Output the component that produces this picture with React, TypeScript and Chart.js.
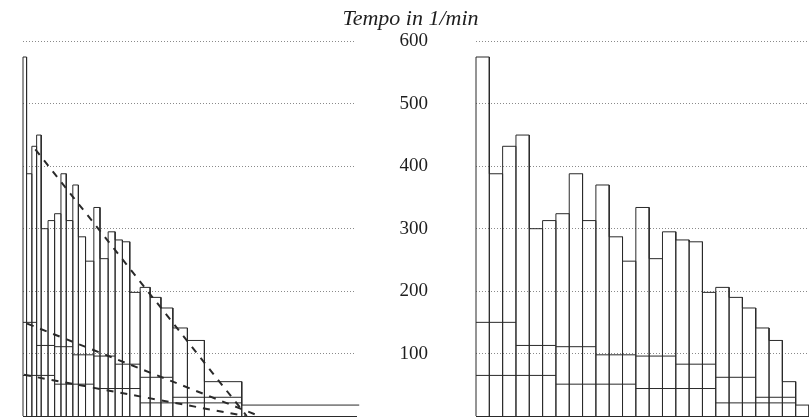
import React, { useEffect, useRef } from 'react';
import { Chart, registerables } from 'chart.js';

Chart.register(...registerables);

// Tempo of each beat (1/min)
const tempo = [575, 388, 432, 450, 300, 313, 324, 388, 313, 370, 287, 248, 334, 252, 295, 282, 279, 198, 206, 190, 173, 141, 121, 55, 17.5];
// Values per group of 3 beats and per group of 6 beats
const group3 = [150, 113, 111, 98, 96, 83, 62, 30];
const group6 = [65, 51, 44, 21];
// Trend lines in the time panel: (time in s, tempo)
const trendA = [{ x: 0.36, y: 427 }, { x: 6.53, y: 0 }];
const trendB = [{ x: 0.12, y: 148 }, { x: 6.89, y: 0 }];
const trendC = [{ x: 0.03, y: 66 }, { x: 6.48, y: 0 }];

const TITLE = 'Tempo in 1/min';
const Y_MIN = 0;
const Y_MAX = 600;
const Y_STEP = 100;
const LEFT_X_MAX = 9.72; // seconds
const RIGHT_X_MAX = tempo.length;

const LINE = '#2a2a2a';
const GRID = '#8a8a8a';
const TEXT = '#1e1e1e';

type P = { x: number; y: number | null };

function timeEdges(): number[] {
  const e = [0];
  tempo.forEach((v) => e.push(e[e.length - 1] + 60 / v));
  return e;
}
function indexEdges(): number[] {
  return tempo.map((_, i) => i).concat([tempo.length]);
}
function outline(edges: number[]): P[] {
  const pts: P[] = [{ x: edges[0], y: 0 }];
  tempo.forEach((v, i) => {
    pts.push({ x: edges[i], y: v });
    pts.push({ x: edges[i + 1], y: v });
    pts.push({ x: edges[i + 1], y: 0 });
  });
  return pts;
}
function groups(edges: number[], vals: number[], size: number): P[] {
  const pts: P[] = [];
  vals.forEach((g, k) => {
    const s = edges[k * size];
    const e = edges[(k + 1) * size];
    pts.push({ x: s, y: g }, { x: e, y: g }, { x: e, y: null });
  });
  return pts;
}

const lineDs = (data: P[], extra: any = {}) => ({
  data,
  borderColor: LINE,
  borderWidth: 1,
  pointRadius: 0,
  tension: 0,
  fill: false,
  spanGaps: false,
  ...extra,
});

const gridColor = (c: any) => (c.tick && c.tick.value === 0 ? 'rgba(0,0,0,0)' : GRID);

export default function App() {
  const leftRef = useRef<HTMLCanvasElement>(null);
  const rightRef = useRef<HTMLCanvasElement>(null);

  useEffect(() => {
    const tE = timeEdges();
    const iE = indexEdges();

    const right = new Chart(rightRef.current!, {
      type: 'line',
      data: {
        datasets: [
          lineDs(outline(iE), { clip: false }),
          lineDs(groups(iE, group3, 3)),
          lineDs(groups(iE, group6, 6)),
        ],
      },
      options: {
        animation: false,
        responsive: false,
        events: [],
        layout: { padding: { left: 12, right: 0, top: 0, bottom: 2 } },
        plugins: {
          legend: { display: false },
          tooltip: { enabled: false },
          title: {
            display: true,
            text: TITLE,
            color: TEXT,
            font: { family: 'Liberation Serif', size: 22, style: 'italic', weight: 'normal' },
            padding: { top: 6, bottom: 9 },
          },
        },
        scales: {
          x: {
            type: 'linear',
            min: 0,
            max: RIGHT_X_MAX,
            ticks: { display: false },
            grid: { display: false, drawTicks: false },
            border: { display: true, color: LINE, width: 1 },
            afterFit: (s: any) => { s.height = 0; },
          },
          y: {
            min: Y_MIN,
            max: Y_MAX,
            ticks: {
              stepSize: Y_STEP,
              color: TEXT,
              font: { family: 'Liberation Serif', size: 19 },
              padding: 0,
              crossAlign: 'near',
              callback: (v: any) => (v === 0 ? '' : String(v)),
            },
            grid: {
              color: gridColor,
              lineWidth: 1,
              drawTicks: true,
              tickLength: 48,
              tickColor: 'rgba(0,0,0,0)',
            },
            border: { display: false, dash: [1, 2] },
            afterFit: (s: any) => {
              s.width = 464;
              s.paddingTop = 0;
              s.paddingBottom = 0;
            },
          },
        },
      } as any,
    });

    const left = new Chart(leftRef.current!, {
      type: 'line',
      data: {
        datasets: [
          lineDs(outline(tE), { clip: false }),
          lineDs(groups(tE, group3, 3)),
          lineDs(groups(tE, group6, 6)),
          lineDs(trendA, { borderWidth: 2, borderDash: [7, 7] }),
          lineDs(trendB, { borderWidth: 2, borderDash: [7, 7] }),
          lineDs(trendC, { borderWidth: 2, borderDash: [7, 7] }),
        ],
      },
      options: {
        animation: false,
        responsive: false,
        events: [],
        layout: { padding: { left: 23, right: 14, top: 41.4, bottom: 2 } },
        plugins: { legend: { display: false }, tooltip: { enabled: false }, title: { display: false } },
        scales: {
          x: {
            type: 'linear',
            min: 0,
            max: LEFT_X_MAX,
            ticks: { display: false },
            grid: { display: false, drawTicks: false },
            border: { display: true, color: LINE, width: 1 },
            afterFit: (s: any) => { s.height = 0; },
          },
          y: {
            min: Y_MIN,
            max: Y_MAX,
            ticks: { display: false, stepSize: Y_STEP },
            grid: { color: gridColor, lineWidth: 1, drawTicks: false },
            border: { display: false, dash: [1, 2] },
            afterFit: (s: any) => { s.width = 0; },
          },
        },
      } as any,
    });

    return () => {
      left.destroy();
      right.destroy();
    };
  }, []);

  return (
    <div style={{ position: 'fixed', left: 0, top: 0, width: 809, height: 418, background: '#fff' }}>
      <canvas ref={rightRef} width={809} height={418} style={{ position: 'absolute', left: 0, top: 0 }} />
      <canvas ref={leftRef} width={370} height={418} style={{ position: 'absolute', left: 0, top: 0 }} />
    </div>
  );
}
